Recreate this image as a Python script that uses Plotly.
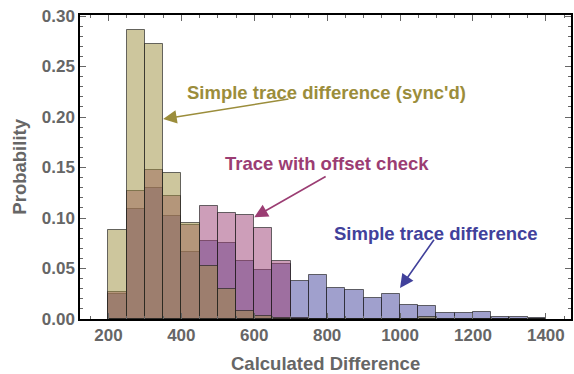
import plotly.graph_objects as go

bin_start = [200, 250, 300, 350, 400, 450, 500, 550, 600, 650, 700, 750,
             800, 850, 900, 950, 1000, 1050, 1100, 1150, 1200, 1250, 1300, 1350]
bin_width = 50

synced = [0.088, 0.286, 0.272, 0.145, 0.095, 0.052, 0.030, 0.008, 0.003, 0.001, 0, 0,
          0, 0, 0, 0, 0, 0.002, 0, 0, 0, 0, 0, 0]
offset_check = [0.027, 0.127, 0.148, 0.122, 0.093, 0.112, 0.105, 0.103, 0.090, 0.057, 0.001, 0,
                0, 0, 0, 0, 0, 0, 0, 0, 0, 0, 0, 0]
simple = [0.025, 0.109, 0.130, 0.102, 0.066, 0.077, 0.075, 0.057, 0.049, 0.054, 0.038, 0.044,
          0.031, 0.029, 0.021, 0.025, 0.014, 0.013, 0.006, 0.0056, 0.0066, 0.0023, 0.0017, 0.0008]

centers = [b + bin_width / 2 for b in bin_start]

OLIVE = (155, 141, 59)
PINK = (155, 61, 115)
BLUE = (65, 65, 155)

def rgba(c, a):
    return f"rgba({c[0]},{c[1]},{c[2]},{a})"

fig = go.Figure()
for vals, col, name in [(simple, BLUE, "Simple trace difference"),
                        (offset_check, PINK, "Trace with offset check"),
                        (synced, OLIVE, "Simple trace difference (sync'd)")]:
    fig.add_trace(go.Bar(
        x=centers, y=vals, width=bin_width, name=name,
        marker=dict(color=rgba(col, 0.5), line=dict(color="rgba(30,30,30,0.65)", width=1)),
        showlegend=False,
    ))

ann_font = dict(family="Liberation Sans, Arial, sans-serif", size=18.5)

annotations = [
    # arrows
    dict(x=350, y=0.198, ax=698, ay=0.218, xref="x", yref="y", axref="x", ayref="y",
         showarrow=True, arrowhead=2, arrowsize=1.7, arrowwidth=1.6, arrowcolor=rgba(OLIVE, 1), text=""),
    dict(x=600, y=0.1007, ax=800, ay=0.142, xref="x", yref="y", axref="x", ayref="y",
         showarrow=True, arrowhead=2, arrowsize=1.7, arrowwidth=1.6, arrowcolor=rgba(PINK, 1), text=""),
    dict(x=1000, y=0.0306, ax=1096, ay=0.080, xref="x", yref="y", axref="x", ayref="y",
         showarrow=True, arrowhead=2, arrowsize=1.7, arrowwidth=1.6, arrowcolor=rgba(BLUE, 1), text=""),
    # labels
    dict(x=797, y=0.2238, xref="x", yref="y", showarrow=False,
         text="<b>Simple trace difference (sync'd)</b>", font=dict(color=rgba(OLIVE, 1), **ann_font)),
    dict(x=799, y=0.154, xref="x", yref="y", showarrow=False,
         text="<b>Trace with offset check</b>", font=dict(color=rgba(PINK, 1), **ann_font)),
    dict(x=1098, y=0.0849, xref="x", yref="y", showarrow=False,
         text="<b>Simple trace difference</b>", font=dict(color=rgba(BLUE, 1), **ann_font)),
    # axis titles
    dict(x=0.5, y=-0.146, xref="paper", yref="paper", showarrow=False, yanchor="middle",
         text="<b>Calculated Difference</b>", font=dict(color="#666666", **ann_font)),
    dict(x=-0.125, y=0.5, xref="paper", yref="paper", showarrow=False, xanchor="center",
         textangle=-90, text="<b>Probability</b>", font=dict(color="#666666", **ann_font)),
]

tick_font = dict(family="Liberation Sans, Arial, sans-serif", size=17, color="#666666")

fig.update_layout(
    width=574, height=374,
    margin=dict(l=80, r=3, t=15, b=55, autoexpand=False),
    paper_bgcolor="white", plot_bgcolor="white",
    barmode="overlay", bargap=0,
    annotations=annotations,
    xaxis=dict(range=[122, 1469], tickmode="array", automargin=False,
               tickvals=[200, 400, 600, 800, 1000, 1200, 1400],
               ticktext=["<b>200</b>", "<b>400</b>", "<b>600</b>", "<b>800</b>", "<b>1000</b>", "<b>1200</b>", "<b>1400</b>"],
               ticks="inside", ticklen=6, tickwidth=1, tickcolor="#666666",
               minor=dict(ticks="inside", dtick=50, tick0=0, ticklen=3, tickcolor="#666666"),
               showline=True, linecolor="black", linewidth=1.5, mirror="ticks",
               showgrid=False, zeroline=False, tickfont=tick_font),
    yaxis=dict(range=[0, 0.301], tickmode="array", automargin=False,
               tickvals=[0, 0.05, 0.10, 0.15, 0.20, 0.25, 0.30],
               ticktext=["<b>0.00</b>", "<b>0.05</b>", "<b>0.10</b>", "<b>0.15</b>", "<b>0.20</b>", "<b>0.25</b>", "<b>0.30</b>"],
               ticks="inside", ticklen=6, tickwidth=1, tickcolor="#666666",
               minor=dict(ticks="inside", dtick=0.01, tick0=0, ticklen=3, tickcolor="#666666"),
               showline=True, linecolor="black", linewidth=1.5, mirror="ticks",
               showgrid=False, zeroline=False, tickfont=tick_font),
)

fig.write_html("out.html", config={"displayModeBar": False},
               post_script="document.body.style.margin='0';document.body.style.overflow='hidden';")
